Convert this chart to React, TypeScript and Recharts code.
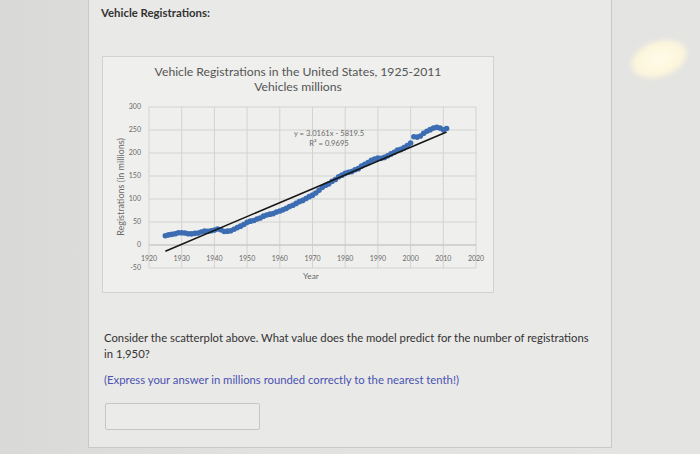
import React from 'react';
import {
  ScatterChart,
  Scatter,
  XAxis,
  YAxis,
  CartesianGrid,
  ReferenceLine,
} from 'recharts';

// Years 1925..2011
const years: number[] = [
  1925, 1926, 1927, 1928, 1929, 1930, 1931, 1932, 1933, 1934,
  1935, 1936, 1937, 1938, 1939, 1940, 1941, 1942, 1943, 1944,
  1945, 1946, 1947, 1948, 1949, 1950, 1951, 1952, 1953, 1954,
  1955, 1956, 1957, 1958, 1959, 1960, 1961, 1962, 1963, 1964,
  1965, 1966, 1967, 1968, 1969, 1970, 1971, 1972, 1973, 1974,
  1975, 1976, 1977, 1978, 1979, 1980, 1981, 1982, 1983, 1984,
  1985, 1986, 1987, 1988, 1989, 1990, 1991, 1992, 1993, 1994,
  1995, 1996, 1997, 1998, 1999, 2000, 2001, 2002, 2003, 2004,
  2005, 2006, 2007, 2008, 2009, 2010, 2011,
];

// Registrations (millions)
const registrations: number[] = [
  20.1, 22.1, 23.1, 24.5, 26.5, 26.7, 26.0, 24.4, 24.2, 25.3,
  26.2, 28.2, 30.1, 29.8, 31.0, 32.5, 34.9, 33.0, 29.5, 30.1,
  31.0, 34.4, 37.8, 41.0, 44.7, 49.2, 51.9, 53.3, 56.3, 58.6,
  62.7, 65.2, 67.1, 68.3, 71.5, 73.9, 76.4, 79.7, 83.5, 86.3,
  90.4, 94.2, 97.0, 101.0, 105.1, 108.4, 113.0, 118.8, 125.7, 129.9,
  132.9, 138.5, 142.4, 148.4, 151.9, 155.8, 158.3, 159.6, 163.7, 166.0,
  171.7, 175.7, 179.0, 184.4, 187.0, 188.8, 188.4, 190.4, 194.1, 198.0,
  201.5, 206.4, 207.8, 211.6, 216.3, 221.5, 235.3, 234.6, 236.8, 243.0,
  247.4, 250.8, 254.4, 255.9, 254.2, 250.3, 253.2,
];

// Linear trendline y = slope * x + intercept
const trendSlope = 3.0161;
const trendIntercept = -5819.5;
const trendYears: number[] = [1925, 2011];

const xTicks: number[] = [1920, 1930, 1940, 1950, 1960, 1970, 1980, 1990, 2000, 2010, 2020];
const yTicks: number[] = [-50, 0, 50, 100, 150, 200, 250, 300];

const chartTitle = 'Vehicle Registrations in the United States, 1925-2011';
const chartSubtitle = 'Vehicles millions';
const equationText = 'y = 3.0161x - 5819.5';
const r2Text = 'R² = 0.9695';

const scatterData = years.map((y, i) => ({ year: y, value: registrations[i] }));
const trendData = trendYears.map((y) => ({ year: y, value: trendSlope * y + trendIntercept }));

const FONT = 'Lato, "Open Sans", sans-serif';

const Dot = (props: any) => (
  <circle cx={props.cx} cy={props.cy} r={2.8} fill="#3c6db3" />
);
const NoDot = () => <g />;

const XTick = (props: any) => (
  <text
    x={props.x}
    y={props.y - 18}
    textAnchor="middle"
    dominantBaseline="central"
    fontSize={7}
    fill="#6a6a6a"
    fontFamily={FONT}
  >
    {props.payload.value}
  </text>
);

export default function App() {
  return (
    <div
      style={{
        position: 'absolute',
        left: 0,
        top: 0,
        width: 700,
        height: 454,
        overflow: 'hidden',
        background: 'linear-gradient(90deg, #d9d9d7 0%, #e2e2e0 40%, #e4e4e2 100%)',
        fontFamily: FONT,
      }}
    >
      {/* panel */}
      <div
        style={{
          position: 'absolute',
          left: 88,
          top: -2,
          width: 524,
          height: 450,
          background: '#e9e9e7',
          border: '1px solid #c9c9c7',
          boxSizing: 'border-box',
        }}
      />
      {/* glare */}
      <div
        style={{
          position: 'absolute',
          left: 630,
          top: 41,
          width: 58,
          height: 36,
          borderRadius: '50%',
          background: 'radial-gradient(ellipse at center, #fffbe9 0%, #fdf6dc 55%, rgba(240,236,222,0) 100%)',
          transform: 'rotate(-18deg)',
          filter: 'blur(2px)',
        }}
      />
      <div
        style={{
          position: 'absolute',
          left: 101,
          top: 6,
          fontSize: 11.4,
          fontWeight: 700,
          color: '#333',
          whiteSpace: 'nowrap',
        }}
      >
        Vehicle Registrations:
      </div>

      {/* chart box */}
      <div
        style={{
          position: 'absolute',
          left: 102,
          top: 56,
          width: 392,
          height: 237,
          background: '#efefed',
          border: '1px solid #d2d2d0',
          boxSizing: 'border-box',
        }}
      />
      <div
        style={{
          position: 'absolute',
          left: 102,
          top: 64,
          width: 392,
          textAlign: 'center',
          fontSize: 12.2,
          lineHeight: '15px',
          color: '#555',
          whiteSpace: 'nowrap',
        }}
      >
        <div>{chartTitle}</div>
        <div>{chartSubtitle}</div>
      </div>

      <div style={{ position: 'absolute', left: 102, top: 56 }}>
        <ScatterChart
          width={392}
          height={237}
          margin={{ top: 51, right: 18, bottom: 0, left: 0 }}
        >
          <CartesianGrid stroke="#d3d3d1" strokeWidth={1} />
          <XAxis
            type="number"
            dataKey="year"
            domain={[1920, 2020]}
            ticks={xTicks}
            interval={0}
            height={25}
            axisLine={false}
            tickLine={false}
            tick={XTick}
          />
          <YAxis
            type="number"
            dataKey="value"
            domain={[-50, 300]}
            ticks={yTicks}
            interval={0}
            width={47}
            axisLine={false}
            tickLine={false}
            tick={{ fontSize: 7, fill: '#6a6a6a', fontFamily: FONT }}
          />
          <ReferenceLine y={0} stroke="#c4c4c2" strokeWidth={1} />
          <Scatter data={scatterData} shape={Dot} isAnimationActive={false} />
          <Scatter
            data={trendData}
            shape={NoDot}
            line={{ stroke: '#161616', strokeWidth: 1.6 }}
            isAnimationActive={false}
          />
        </ScatterChart>
      </div>

      {/* axis titles and trendline label */}
      <div
        style={{
          position: 'absolute',
          left: 120,
          top: 187,
          transform: 'translate(-50%, -50%) rotate(-90deg)',
          fontSize: 9,
          color: '#6a6a6a',
          whiteSpace: 'nowrap',
        }}
      >
        Registrations (in millions)
      </div>
      <div
        style={{
          position: 'absolute',
          left: 311,
          top: 276,
          transform: 'translate(-50%, -50%)',
          fontSize: 8.3,
          color: '#6a6a6a',
        }}
      >
        Year
      </div>
      <div
        style={{
          position: 'absolute',
          left: 329,
          top: 138,
          transform: 'translate(-50%, -50%)',
          fontSize: 7.6,
          lineHeight: '10px',
          color: '#6a6a6a',
          textAlign: 'center',
          whiteSpace: 'nowrap',
        }}
      >
        <div>{equationText}</div>
        <div>{r2Text}</div>
      </div>

      {/* question text */}
      <div
        style={{
          position: 'absolute',
          left: 104,
          top: 330,
          fontSize: 11.3,
          lineHeight: '16px',
          color: '#333',
          whiteSpace: 'nowrap',
        }}
      >
        <div>Consider the scatterplot above. What value does the model predict for the number of registrations</div>
        <div>in 1,950?</div>
      </div>
      <div
        style={{
          position: 'absolute',
          left: 104,
          top: 372,
          fontSize: 11.3,
          lineHeight: '16px',
          color: '#4a52b2',
          whiteSpace: 'nowrap',
        }}
      >
        (Express your answer in millions rounded correctly to the nearest tenth!)
      </div>
      <div
        style={{
          position: 'absolute',
          left: 105,
          top: 403,
          width: 155,
          height: 27,
          border: '1px solid #c6c6c4',
          background: '#ebebe9',
          boxSizing: 'border-box',
          borderRadius: 2,
        }}
      />
    </div>
  );
}
